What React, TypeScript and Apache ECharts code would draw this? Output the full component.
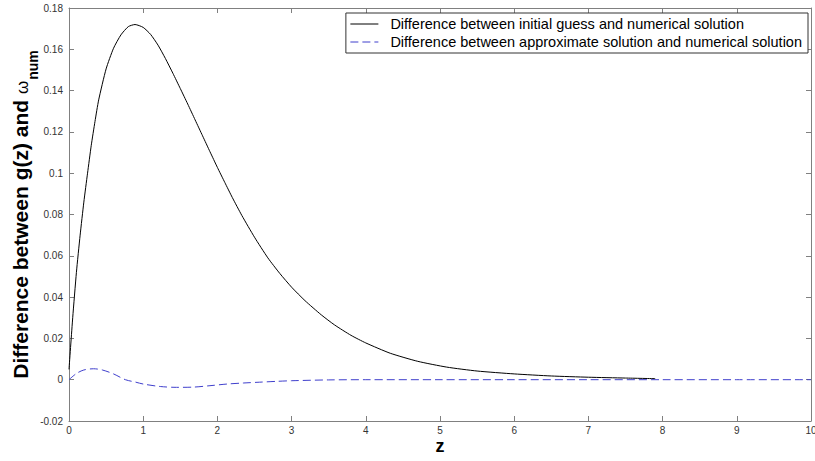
import React, { useEffect, useRef } from "react";
import * as echarts from "echarts";

// Difference between the initial guess g(z) and the numerical solution
const zGuess = [
  0, 0.05, 0.1, 0.15, 0.2, 0.25, 0.3, 0.35, 0.4, 0.5, 0.6, 0.7, 0.8, 0.89,
  1.0, 1.1, 1.2, 1.3, 1.4, 1.5, 1.6, 1.7, 1.8, 1.9, 2.0, 2.1, 2.2, 2.33, 2.5,
  2.68, 2.84, 3.0, 3.18, 3.4, 3.58, 3.8, 4.0, 4.33, 4.7, 5.09, 5.5, 6.0, 6.5,
  7.0, 7.5, 7.9,
];
const diffGuess = [
  0.005, 0.03, 0.052, 0.07, 0.086, 0.1, 0.1135, 0.125, 0.1355, 0.1505, 0.1605,
  0.167, 0.171, 0.172, 0.1706, 0.1672, 0.162, 0.1555, 0.1484, 0.141, 0.1335,
  0.1258, 0.1181, 0.1104, 0.1028, 0.0955, 0.0883, 0.0795, 0.069, 0.059,
  0.0515, 0.0448, 0.0383, 0.0314, 0.0265, 0.0215, 0.0178, 0.0128, 0.0089,
  0.0061, 0.0042, 0.0028, 0.0018, 0.0012, 0.0008, 0.0005,
];

// Difference between the approximate solution and the numerical solution
const zApprox = [
  0, 0.1, 0.2, 0.33, 0.45, 0.6, 0.76, 0.9, 1.0, 1.23, 1.45, 1.67, 1.9, 2.13,
  2.35, 2.57, 2.8, 3.0, 3.5, 4.0, 5.0, 6.0, 7.0, 8.0, 9.0, 10.0,
];
const diffApprox = [
  0, 0.003, 0.0047, 0.0053, 0.0047, 0.0028, 0, -0.0012, -0.0021, -0.0033,
  -0.0037, -0.0036, -0.0029, -0.0021, -0.0016, -0.0012, -0.0008, -0.0005,
  -0.0001, 0, 0, 0, 0, 0, 0, 0,
];

const seriesNames = [
  "Difference between initial guess and numerical solution",
  "Difference between approximate solution and numerical solution",
];

const xTicks = [0, 1, 2, 3, 4, 5, 6, 7, 8, 9, 10];
const yTicks = [-0.02, 0, 0.02, 0.04, 0.06, 0.08, 0.1, 0.12, 0.14, 0.16, 0.18];

const FONT = "'Liberation Sans', Arial, sans-serif";
const AXIS_GRAY = "#808080";

const pairs = (xs: number[], ys: number[]) => xs.map((x, i) => [x, ys[i]]);
const fmtY = (v: number) => String(+v.toFixed(2));

export default function App() {
  const ref = useRef<HTMLDivElement>(null);

  useEffect(() => {
    if (!ref.current) return;
    document.body.style.margin = "0";
    const chart = echarts.init(ref.current, undefined, { renderer: "svg" });

    const xBase = {
      type: "value" as const,
      min: xTicks[0],
      max: xTicks[xTicks.length - 1],
      interval: xTicks[1] - xTicks[0],
      splitLine: { show: false },
      axisLine: { show: true, onZero: false, lineStyle: { color: AXIS_GRAY, width: 1 } },
      axisTick: { show: true, inside: true, length: 5, lineStyle: { color: AXIS_GRAY } },
    };
    const yBase = {
      type: "value" as const,
      min: yTicks[0],
      max: yTicks[yTicks.length - 1],
      interval: 0.02,
      splitLine: { show: false },
      axisLine: { show: true, onZero: false, lineStyle: { color: AXIS_GRAY, width: 1 } },
      axisTick: { show: true, inside: true, length: 5, lineStyle: { color: AXIS_GRAY } },
    };

    chart.setOption({
      animation: false,
      backgroundColor: "#ffffff",
      grid: {
        left: 69,
        right: 4,
        top: 8,
        bottom: 40,
        containLabel: false,
        outerBoundsMode: "none",
      },
      legend: {
        orient: "vertical",
        right: 7,
        top: 13,
        itemWidth: 28,
        itemHeight: 10,
        itemGap: 2,
        padding: [3, 6, 3, 4],
        borderColor: "#333333",
        borderWidth: 1,
        borderRadius: 0,
        backgroundColor: "#ffffff",
        selectedMode: false,
        itemStyle: { opacity: 0 },
        lineStyle: { width: 1 },
        textStyle: {
          fontFamily: FONT,
          fontSize: 14.5,
          color: "#000000",
          lineHeight: 16,
          padding: [0, 0, 0, 7],
        },
        data: seriesNames,
      },
      xAxis: [
        {
          ...xBase,
          position: "bottom",
          name: "z",
          nameLocation: "middle",
          nameGap: 16,
          nameMoveOverlap: false,
          nameTextStyle: { fontFamily: FONT, fontSize: 18, fontWeight: "bold", color: "#000" },
          axisLabel: {
            show: true,
            margin: 4,
            fontFamily: FONT,
            fontSize: 10,
            color: "#333333",
            formatter: (v: number) => String(v),
          },
        },
        { ...xBase, position: "top", axisLabel: { show: false } },
      ],
      yAxis: [
        {
          ...yBase,
          position: "left",
          name: "{m|Difference between g(z) and }{w|ω}{s|num}",
          nameLocation: "middle",
          nameRotate: 90,
          nameGap: 33,
          nameMoveOverlap: false,
          nameTextStyle: {
            fontFamily: FONT,
            color: "#000",
            rich: {
              m: { fontFamily: FONT, fontSize: 21, fontWeight: "bold", lineHeight: 26, verticalAlign: "top", color: "#000" },
              w: { fontFamily: FONT, fontSize: 17, fontWeight: "normal", lineHeight: 26, padding: [4, 1, 0, 0], verticalAlign: "top", color: "#000" },
              s: { fontFamily: FONT, fontSize: 14, fontWeight: "bold", lineHeight: 14, padding: [16, 0, 0, 0], verticalAlign: "top", color: "#000" },
            },
          },
          axisLabel: {
            show: true,
            margin: 6,
            fontFamily: FONT,
            fontSize: 10,
            color: "#333333",
            formatter: fmtY,
          },
        },
        { ...yBase, position: "right", axisLabel: { show: false } },
      ],
      series: [
        {
          name: seriesNames[0],
          type: "line",
          data: pairs(zGuess, diffGuess),
          smooth: 0.2,
          symbol: "none",
          lineStyle: { color: "#000000", width: 1, type: "solid" },
          itemStyle: { color: "#000000" },
          z: 2,
        },
        {
          name: seriesNames[1],
          type: "line",
          data: pairs(zApprox, diffApprox),
          smooth: 0.3,
          symbol: "none",
          lineStyle: { color: "#3f3fcc", width: 1, type: [8, 4] },
          itemStyle: { color: "#3f3fcc" },
          z: 3,
        },
      ],
    });

    return () => chart.dispose();
  }, []);

  return <div ref={ref} style={{ width: 815, height: 461 }} />;
}
